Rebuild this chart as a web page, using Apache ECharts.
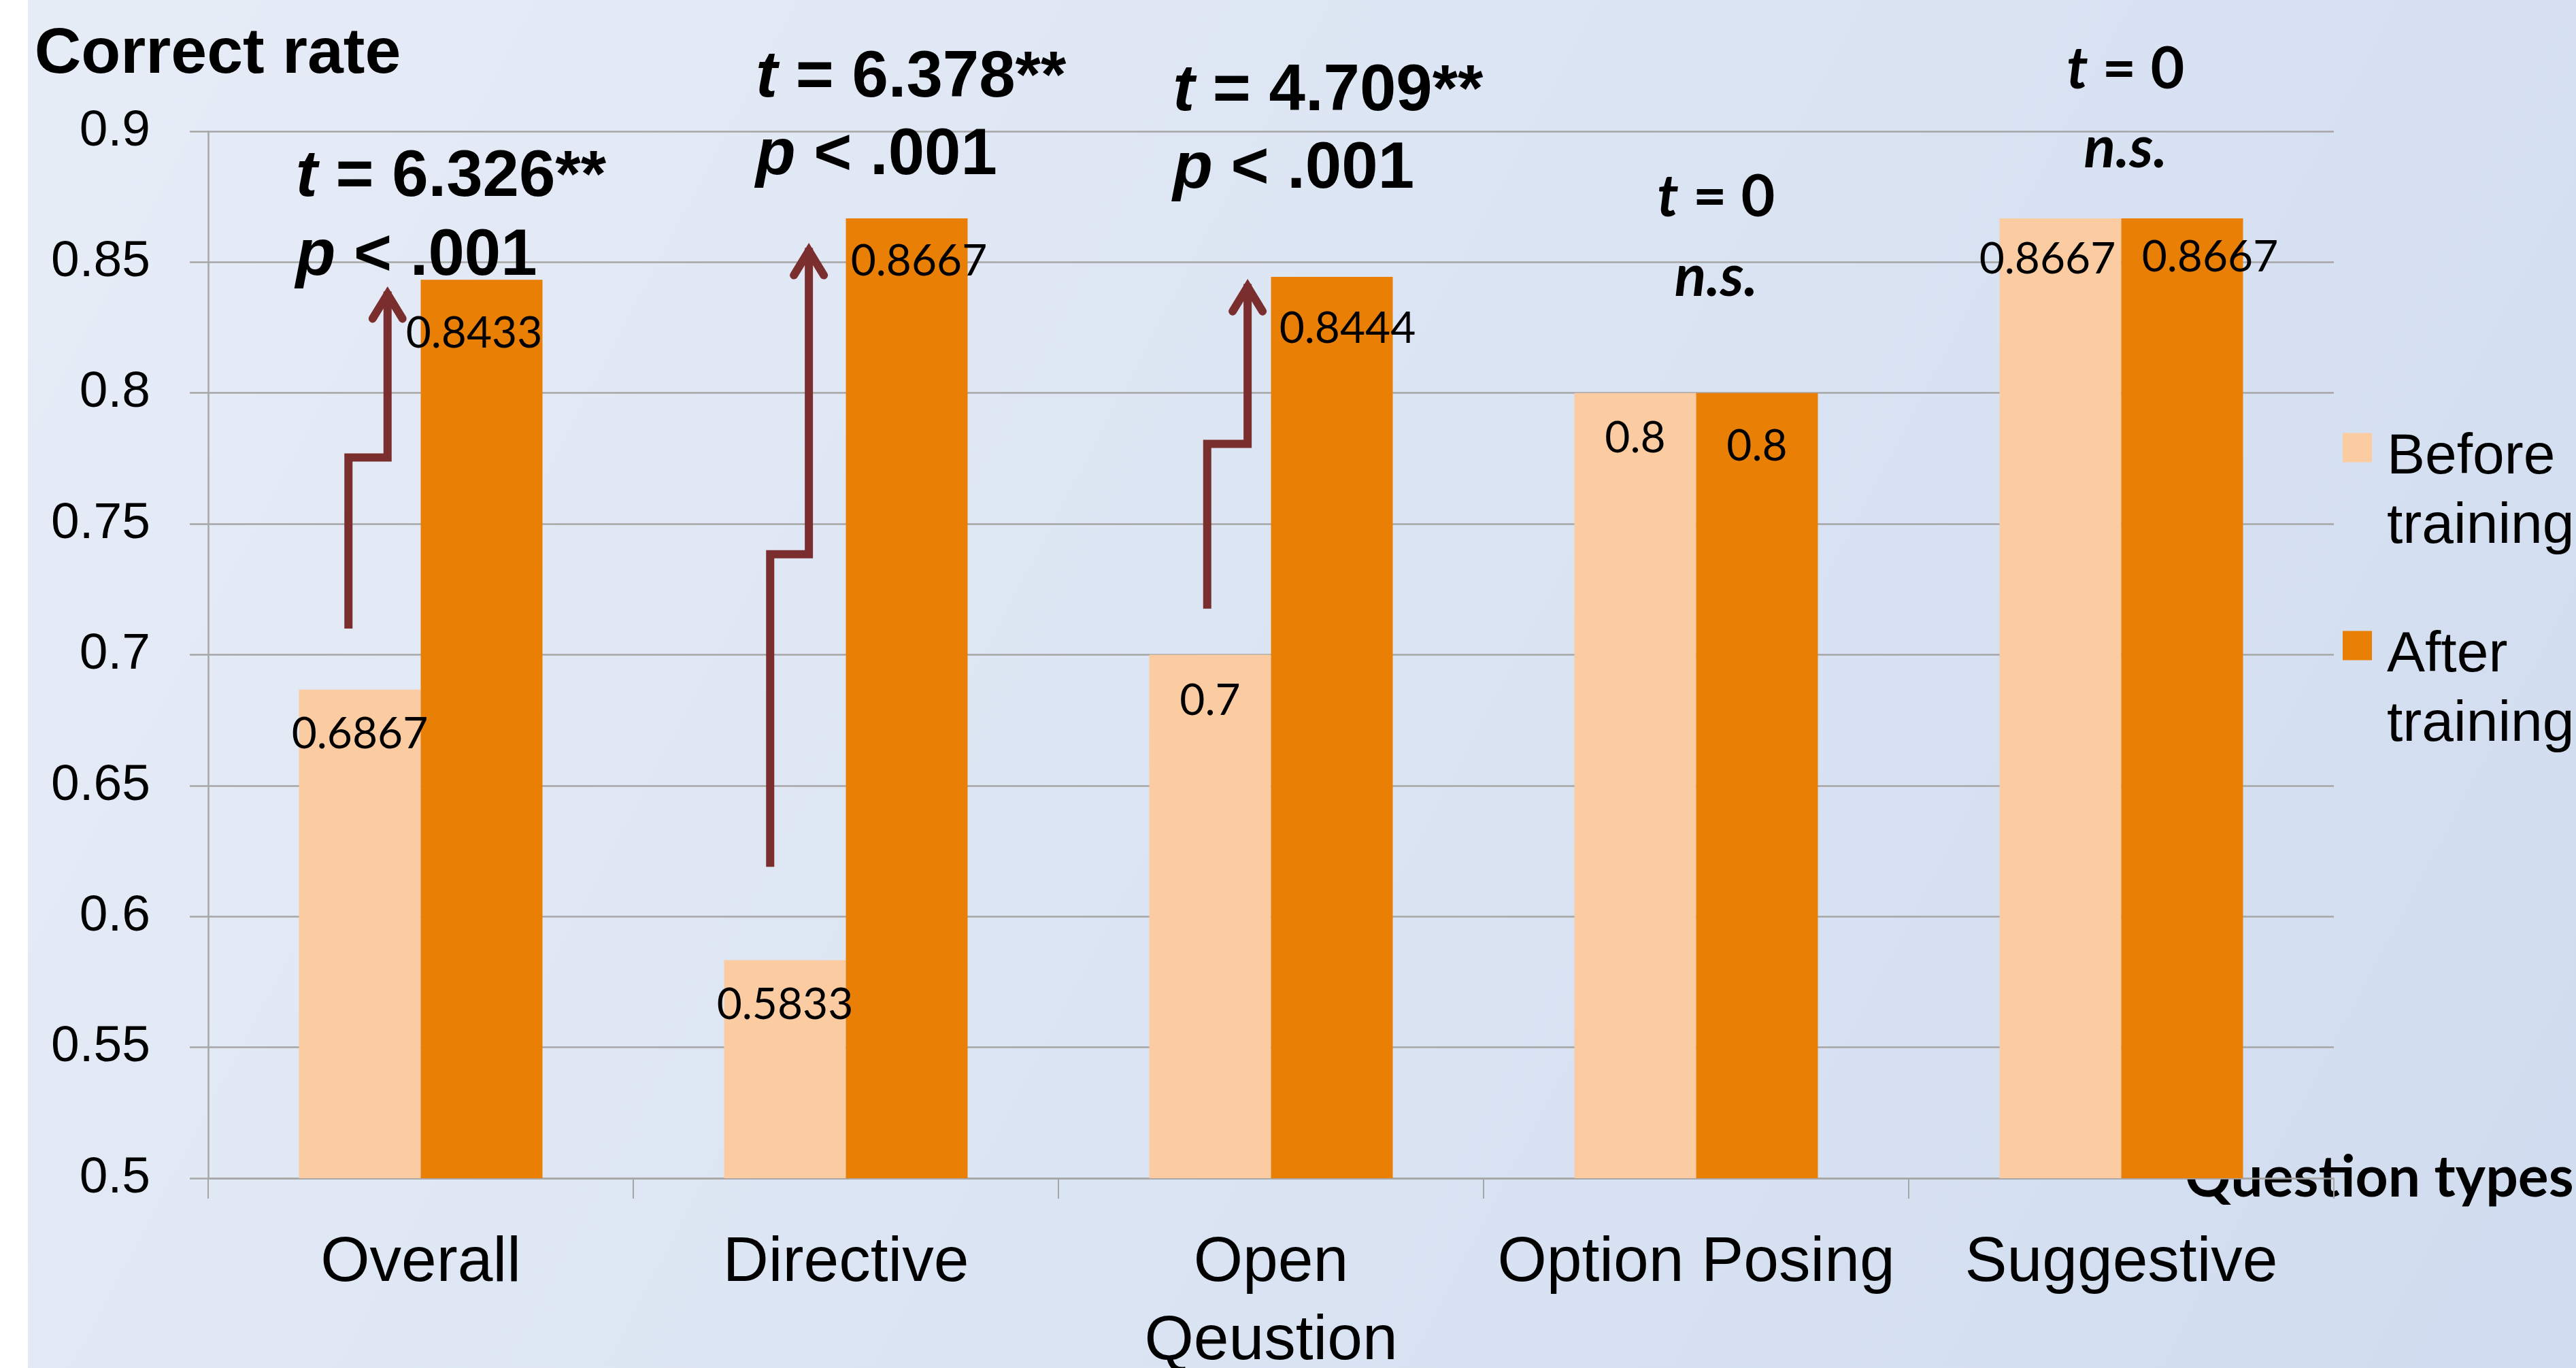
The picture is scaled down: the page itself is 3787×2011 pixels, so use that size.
<!DOCTYPE html>
<html>
<head>
<meta charset="utf-8">
<style>
  html, body { margin: 0; padding: 0; background: #fff; }
  #chart { width: 3787px; height: 2011px; }
</style>
<script src="https://cdn.jsdelivr.net/npm/echarts@6/dist/echarts.min.js"></script>
</head>
<body>
<div id="chart"></div>
<script>
// question types (x axis), the typo is in the original slide
const categories = ['Overall', 'Directive', 'Open\nQeustion', 'Option Posing', 'Suggestive'];
const beforeTraining = [0.6867, 0.5833, 0.7, 0.8, 0.8667];
const afterTraining = [0.8433, 0.8667, 0.8444, 0.8, 0.8667];

// y axis ticks
const yMin = 0.5;
const yMax = 0.9;
const yStep = 0.05;

// paired t-test results per question type
const tStats = ['6.326**', '6.378**', '4.709**', '0', '0'];
const pStats = ['< .001', '< .001', '< .001', null, null]; // null -> n.s.

// step arrows, in correct-rate units: start, step height, tip
const arrowFrom = [0.71, 0.619, 0.7176, null, null];
const arrowStep = [0.7754, 0.7384, 0.7806, null, null];
const arrowTo = [0.8409, 0.8575, 0.8437, null, null];

// where the annotations sit (x as fraction of the category band, y in axis units)
const statLayout = [
  { textX: -0.294, tY: 0.8838, pY: 0.8536, align: 'left', shaftLow: -0.170, shaftHigh: -0.078 },
  { textX: -0.212, tY: 0.9217, pY: 0.8921, align: 'left', shaftLow: -0.178, shaftHigh: -0.087 },
  { textX: -0.231, tY: 0.9165, pY: 0.8869, align: 'left', shaftLow: -0.150, shaftHigh: -0.055 },
  { textX: 0.047, tY: 0.8752, pY: 0.8448, align: 'center' },
  { textX: 0.010, tY: 0.9241, pY: 0.8939, align: 'center' }
];

// data labels were dragged by hand in the slide: pixel nudges [dx, dy] from the bar top
const beforeLabelNudge = [[0, 34], [0, 34], [0, 36], [0, 35], [-19, 28]];
const afterLabelNudge = [[-11, 47], [18, 31], [23, 44], [0, 47], [41, 25]];

const SANS = "'Liberation Sans', Arial, sans-serif";
const CALIBRI = "Lato, 'Liberation Sans', sans-serif";
const GRID_GRAY = '#a6a6a6';
const ARROW = '#7a2f2e';

const chart = echarts.init(document.getElementById('chart'));

function renderStats (params, api) {
  const i = api.value(0);
  const band = api.size([1, 0])[0];
  const cx = api.coord([i, yMin])[0];
  const y = v => api.coord([i, v])[1];
  const lay = statLayout[i];
  const children = [];

  if (arrowFrom[i] != null) {
    const xLow = cx + lay.shaftLow * band;
    const xUp = cx + lay.shaftHigh * band;
    const yS = y(arrowStep[i]);
    const yTip = y(arrowTo[i]);
    children.push({
      type: 'polyline',
      shape: { points: [[xLow, y(arrowFrom[i])], [xLow, yS], [xUp, yS], [xUp, yTip + 8]] },
      style: { stroke: ARROW, lineWidth: 12, fill: null, lineJoin: 'miter', lineCap: 'butt' }
    });
    children.push({
      type: 'polyline',
      shape: { points: [[xUp - 22, yTip + 48], [xUp, yTip + 12], [xUp + 22, yTip + 48]] },
      style: { stroke: ARROW, lineWidth: 12, fill: null, lineJoin: 'miter', lineCap: 'round' }
    });
  }

  const tx = cx + lay.textX * band;
  const sig = pStats[i] != null;
  // glyphs sit a little above the middle of their box
  const dy = sig ? 6 : 2;
  const rich = sig
    ? {
        it: { fontFamily: SANS, fontSize: 96, fontWeight: 'bold', fontStyle: 'italic', color: '#000' },
        b: { fontFamily: SANS, fontSize: 96, fontWeight: 'bold', color: '#000' }
      }
    : {
        it: { fontFamily: CALIBRI, fontSize: 86, fontWeight: 'bold', fontStyle: 'italic', color: '#000' },
        b: { fontFamily: CALIBRI, fontSize: 86, fontWeight: 'bold', color: '#000' }
      };
  children.push({
    type: 'text',
    style: {
      x: tx, y: y(lay.tY) + dy, align: lay.align, verticalAlign: 'middle',
      text: '{it|t}{b| = ' + tStats[i] + '}', rich: rich
    }
  });
  children.push({
    type: 'text',
    style: {
      x: tx, y: y(lay.pY) + dy, align: lay.align, verticalAlign: 'middle',
      text: sig ? '{it|p}{b| ' + pStats[i] + '}' : '{it|n.s.}', rich: rich
    }
  });
  return { type: 'group', children: children };
}

const barLabel = { show: true, position: 'insideTop', distance: 0, fontFamily: CALIBRI, fontSize: 64, lineHeight: 64, color: '#000' };

function withNudges (values, nudges) {
  return values.map((v, i) => ({ value: v, label: { offset: nudges[i] } }));
}

const option = {
  backgroundColor: {
    type: 'linear', x: 0, y: 0, x2: 1, y2: 1,
    colorStops: [{ offset: 0, color: '#e7edf7' }, { offset: 1, color: '#d0dcef' }]
  },
  animation: false,
  graphic: [{
    type: 'rect', left: 0, top: 0, z: -1,
    shape: { width: 41, height: 2011 }, style: { fill: '#ffffff' }
  }],
  grid: { left: 306, right: 356, top: 193, bottom: 279, outerBoundsMode: 'none', containLabel: false },
  legend: {
    data: ['Before training', 'After training'],
    orient: 'vertical',
    left: 3444,
    top: 514,
    padding: 0,
    itemWidth: 43,
    itemHeight: 43,
    itemGap: -12,
    icon: 'rect',
    // a taller empty first line keeps the square beside the first line of the name
    formatter: name => '{gap| }\n{t|' + name.replace(' ', '}\n{t|') + '}',
    textStyle: {
      fontFamily: SANS, fontSize: 84, color: '#000', padding: [0, 0, 0, 17],
      rich: {
        gap: { fontFamily: SANS, fontSize: 84, lineHeight: 132 },
        t: { fontFamily: SANS, fontSize: 84, lineHeight: 102, color: '#000' }
      }
    }
  },
  xAxis: {
    type: 'category',
    data: categories,
    name: 'Question types',
    nameLocation: 'end',
    nameGap: -219,
    nameTextStyle: { fontFamily: CALIBRI, fontWeight: 'bold', fontSize: 84, color: '#000', align: 'left', verticalAlign: 'middle' },
    axisLine: { lineStyle: { color: GRID_GRAY, width: 2.5 } },
    axisTick: { show: true, length: 30, lineStyle: { color: GRID_GRAY, width: 2 } },
    axisLabel: { fontFamily: SANS, fontSize: 93, lineHeight: 115, color: '#000', margin: 68, interval: 0 }
  },
  yAxis: {
    type: 'value',
    min: yMin,
    max: yMax,
    interval: yStep,
    name: 'Correct rate',
    nameLocation: 'end',
    nameGap: 112,
    nameTextStyle: { fontFamily: SANS, fontWeight: 'bold', fontSize: 95, color: '#000', align: 'center', verticalAlign: 'middle', padding: [0, 0, 0, 28] },
    axisLine: { show: true, lineStyle: { color: GRID_GRAY, width: 2.5 } },
    axisTick: { show: true, length: 27, lineStyle: { color: GRID_GRAY, width: 2.5 } },
    splitLine: { lineStyle: { color: GRID_GRAY, width: 2.5 } },
    axisLabel: { fontFamily: SANS, fontSize: 75, color: '#000', margin: 85, padding: [14, 0, 0, 0] }
  },
  series: [
    {
      name: 'Before training',
      type: 'bar',
      data: withNudges(beforeTraining, beforeLabelNudge),
      barWidth: 179,
      barGap: '0%',
      itemStyle: { color: '#fbcba2' },
      label: barLabel
    },
    {
      name: 'After training',
      type: 'bar',
      data: withNudges(afterTraining, afterLabelNudge),
      barWidth: 179,
      barGap: '0%',
      itemStyle: { color: '#ea7f06' },
      label: barLabel
    },
    {
      name: 'stats',
      type: 'custom',
      data: categories.map((c, i) => [i, afterTraining[i]]),
      encode: { x: 0, y: 1 },
      renderItem: renderStats,
      clip: false,
      silent: true,
      z: 10
    }
  ]
};

chart.setOption(option);
</script>
</body>
</html>
